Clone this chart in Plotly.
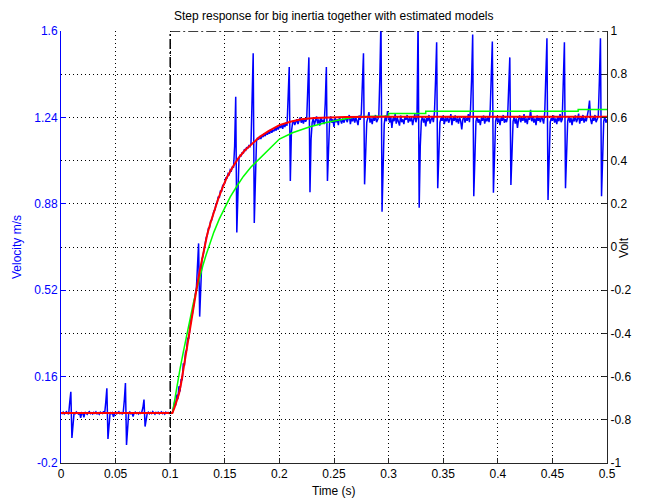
import numpy as np
import plotly.graph_objects as go

# Measured velocity of the big-inertia drive, logged at 1 kHz (m/s)
SAMPLE_PERIOD = 0.001
velocity = [
    0.010, 0.006, 0.012, 0.004, 0.009, 0.014, 0.007, 0.003, 0.054, 0.097,
    -0.096, -0.030, 0.010, 0.006, 0.013, 0.008, 0.004, 0.011, -0.012, 0.009,
    0.006, -0.010, 0.012, 0.007, 0.003, 0.010, 0.014, 0.006, 0.009, 0.004,
    0.011, 0.007, 0.013, 0.005, 0.009, 0.003, 0.012, 0.008, 0.006, 0.015,
    0.007, 0.054, 0.111, -0.100, -0.035, 0.012, 0.006, 0.010, -0.008, 0.008,
    0.013, 0.005, 0.009, 0.014, 0.006, 0.010, 0.004, 0.011, 0.062, 0.133,
    -0.125, -0.040, 0.009, 0.013, 0.005, 0.010, -0.006, 0.008, 0.012, 0.006,
    0.009, 0.004, 0.011, 0.007, 0.013, 0.030, 0.064, -0.048, -0.010, 0.008,
    0.012, 0.005, 0.010, 0.006, 0.014, 0.008, 0.003, 0.011, 0.007, 0.012,
    0.005, 0.009, 0.013, 0.006, 0.010, 0.004, 0.012, 0.008, 0.011, 0.006,
    0.010, 0.007, 0.009, 0.030, 0.055, 0.040, 0.085, 0.066, 0.120, 0.098,
    0.150, 0.145, 0.215, 0.205, 0.262, 0.270, 0.322, 0.318, 0.370, 0.400,
    0.412, 0.452, 0.468, 0.505, 0.530, 0.630, 0.715, 0.410, 0.585, 0.648,
    0.662, 0.695, 0.706, 0.740, 0.750, 0.778, 0.780, 0.808, 0.812, 0.840,
    0.850, 0.855, 0.880, 0.885, 0.910, 0.905, 0.935, 0.930, 0.955, 0.962,
    0.966, 0.990, 0.985, 1.006, 1.002, 1.022, 1.018, 1.036, 1.030, 1.120,
    1.326, 0.760, 0.960, 1.070, 1.082, 1.080, 1.095, 1.090, 1.108, 1.100,
    1.116, 1.110, 1.122, 1.118, 1.132, 1.326, 1.507, 0.800, 0.990, 1.140,
    1.155, 1.148, 1.162, 1.150, 1.166, 1.158, 1.172, 1.162, 1.176, 1.168,
    1.180, 1.172, 1.190, 1.176, 1.188, 1.182, 1.196, 1.185, 1.200, 1.190,
    1.204, 1.196, 1.210, 1.192, 1.214, 1.200, 1.218, 1.205, 1.326, 1.450,
    0.975, 1.180, 1.215, 1.228, 1.208, 1.222, 1.232, 1.212, 1.226, 1.240,
    1.218, 1.230, 1.214, 1.236, 1.222, 1.232, 1.360, 1.490, 0.928, 1.150,
    1.218, 1.236, 1.208, 1.226, 1.244, 1.214, 1.232, 1.206, 1.238, 1.220,
    1.230, 1.212, 1.300, 1.450, 0.975, 1.104, 1.226, 1.244, 1.218, 1.232,
    1.200, 1.238, 1.220, 1.232, 1.208, 1.242, 1.224, 1.214, 1.236, 1.218,
    1.230, 1.242, 1.220, 1.232, 1.250, 1.212, 1.236, 1.224, 1.244, 1.218,
    1.238, 1.226, 1.208, 1.248, 1.230, 1.256, 1.368, 1.507, 0.961, 1.100,
    1.220, 1.238, 1.262, 1.218, 1.236, 1.212, 1.244, 1.226, 1.250, 1.220,
    1.232, 1.242, 1.410, 1.650, 0.847, 1.070, 1.212, 1.248, 1.224, 1.266,
    1.232, 1.218, 1.244, 1.196, 1.236, 1.224, 1.254, 1.214, 1.238, 1.226,
    1.206, 1.248, 1.220, 1.232, 1.212, 1.244, 1.230, 1.250, 1.218, 1.236,
    1.224, 1.242, 1.208, 1.232, 1.254, 1.220, 1.238, 1.650, 0.864, 1.120,
    1.226, 1.244, 1.218, 1.236, 1.202, 1.238, 1.224, 1.250, 1.214, 1.232,
    1.242, 1.220, 1.260, 1.396, 1.553, 0.945, 1.104, 1.218, 1.238, 1.226,
    1.248, 1.212, 1.236, 1.224, 1.244, 1.218, 1.232, 1.254, 1.208, 1.238,
    1.226, 1.248, 1.220, 1.236, 1.214, 1.242, 1.224, 1.190, 1.232, 1.244,
    1.218, 1.238, 1.226, 1.254, 1.220, 1.272, 1.399, 1.585, 0.912, 1.090,
    1.224, 1.244, 1.218, 1.232, 1.208, 1.238, 1.226, 1.248, 1.214, 1.236,
    1.224, 1.242, 1.220, 1.266, 1.390, 1.556, 0.926, 1.100, 1.226, 1.244,
    1.218, 1.236, 1.208, 1.238, 1.226, 1.250, 1.218, 1.232, 1.220, 1.244,
    1.360, 1.490, 0.958, 1.100, 1.224, 1.242, 1.214, 1.236, 1.196, 1.232,
    1.248, 1.220, 1.238, 1.226, 1.254, 1.218, 1.236, 1.212, 1.244, 1.230,
    1.272, 1.224, 1.242, 1.218, 1.236, 1.208, 1.248, 1.226, 1.238, 1.220,
    1.244, 1.232, 1.214, 1.262, 1.390, 1.570, 0.896, 1.090, 1.220, 1.238,
    1.226, 1.248, 1.218, 1.236, 1.212, 1.244, 1.224, 1.254, 1.220, 1.232,
    1.390, 1.553, 0.945, 1.100, 1.226, 1.244, 1.218, 1.238, 1.208, 1.236,
    1.224, 1.248, 1.220, 1.232, 1.256, 1.214, 1.238, 1.226, 1.250, 1.218,
    1.236, 1.224, 1.244, 1.272, 1.310, 1.232, 1.212, 1.238, 1.226, 1.250,
    1.220, 1.232, 1.244, 1.390, 1.570, 0.912, 1.090, 1.224, 1.242, 1.218,
    1.232,
]
time_velocity = np.arange(len(velocity)) * SAMPLE_PERIOD

# Estimated model 1 (red): simulated step response
model1_t = [0.0, 0.102, 0.104, 0.106, 0.108, 0.110, 0.113, 0.116, 0.119, 0.122,
            0.125, 0.128, 0.131, 0.134, 0.137, 0.140, 0.144, 0.148, 0.152, 0.157,
            0.162, 0.168, 0.175, 0.182, 0.190, 0.200, 0.210, 0.220, 0.232, 0.245,
            0.260, 0.300, 0.500]
model1_v = [0.008, 0.008, 0.032, 0.058, 0.088, 0.132, 0.219, 0.306, 0.392, 0.474,
            0.549, 0.622, 0.690, 0.754, 0.802, 0.846, 0.901, 0.948, 0.991, 1.031,
            1.067, 1.101, 1.131, 1.159, 1.183, 1.208, 1.222, 1.232, 1.237, 1.240,
            1.242, 1.243, 1.243]

# Estimated model 2 (green): simulated step response
model2_t = [0.0, 0.102, 0.104, 0.106, 0.109, 0.112, 0.115, 0.118, 0.121, 0.124,
            0.127, 0.130, 0.133, 0.136, 0.140, 0.145, 0.150, 0.155, 0.161, 0.167,
            0.174, 0.182, 0.191, 0.200, 0.212, 0.228, 0.243, 0.258, 0.270, 0.300,
            0.300, 0.334, 0.334, 0.4736, 0.4736, 0.500]
model2_v = [0.008, 0.008, 0.059, 0.115, 0.192, 0.262, 0.333, 0.400, 0.462, 0.520,
            0.574, 0.624, 0.669, 0.711, 0.762, 0.817, 0.866, 0.909, 0.953, 0.994,
            1.033, 1.070, 1.110, 1.150, 1.176, 1.201, 1.219, 1.233, 1.243, 1.246,
            1.256, 1.256, 1.266, 1.266, 1.273, 1.273]

# Input voltage step (right axis), from the switching instant on
input_t = [0.1, 0.1, 0.5]
input_volt = [-1.0, 1.0, 1.0]

# Axis ticks
x_ticks = [0, 0.05, 0.1, 0.15, 0.2, 0.25, 0.3, 0.35, 0.4, 0.45, 0.5]
x_labels = ["0", "0.05", "0.1", "0.15", "0.2", "0.25", "0.3", "0.35", "0.4", "0.45", "0.5"]
vel_ticks = [-0.2, 0.16, 0.52, 0.88, 1.24, 1.6]
vel_labels = ["-0.2", "0.16", "0.52", "0.88", "1.24", "1.6"]
volt_ticks = [-1, -0.8, -0.6, -0.4, -0.2, 0, 0.2, 0.4, 0.6, 0.8, 1]
volt_labels = ["-1", "-0.8", "-0.6", "-0.4", "-0.2", "0", "0.2", "0.4", "0.6", "0.8", "1"]

FONT = "Liberation Sans, Arial, Helvetica, sans-serif"
BLUE = "#0000ff"
DARK = "#262626"
GRID = dict(showgrid=True, gridcolor="#000000", gridwidth=1, griddash="1px,3px")

fig = go.Figure()
fig.add_trace(go.Scatter(x=time_velocity, y=velocity, mode="lines",
                         line=dict(color=BLUE, width=1.5), yaxis="y"))
fig.add_trace(go.Scatter(x=model2_t, y=model2_v, mode="lines",
                         line=dict(color="#00ff00", width=1.5), yaxis="y"))
fig.add_trace(go.Scatter(x=model1_t, y=model1_v, mode="lines",
                         line=dict(color="#ff0000", width=2), yaxis="y"))
fig.add_trace(go.Scatter(x=input_t, y=input_volt, mode="lines",
                         line=dict(color="#000000", width=1.5, dash="10px,3px,2px,3px"),
                         yaxis="y2"))

fig.update_layout(
    width=649, height=498,
    margin=dict(l=61, r=42, t=31, b=35),
    paper_bgcolor="white", plot_bgcolor="white",
    showlegend=False,
    font=dict(family=FONT, size=12, color="#000000"),
    xaxis=dict(range=[0, 0.5], tickmode="array", tickvals=x_ticks, ticktext=x_labels,
               ticks="inside", ticklen=5, tickcolor=DARK, showline=True, linecolor=DARK,
               linewidth=1, zeroline=False, tickfont=dict(family=FONT, size=12, color="#000000"),
               **GRID),
    yaxis=dict(range=[-0.2, 1.6], tickmode="array", tickvals=vel_ticks, ticktext=vel_labels,
               ticks="inside", ticklen=5, tickcolor=BLUE, showline=True, linecolor=BLUE,
               linewidth=1, zeroline=False, tickfont=dict(family=FONT, size=12, color=BLUE),
               **GRID),
    yaxis2=dict(range=[-1, 1], overlaying="y", side="right", anchor="x",
                tickmode="array", tickvals=volt_ticks, ticktext=volt_labels,
                ticks="inside", ticklen=5, tickcolor=DARK, showline=True, linecolor=DARK,
                linewidth=1, zeroline=False, tickfont=dict(family=FONT, size=12, color="#000000"),
                **GRID),
    annotations=[
        dict(text="Step response for big inertia together with estimated models",
             xref="paper", yref="paper", x=0.5, y=1.0347, xanchor="center", yanchor="middle",
             showarrow=False, font=dict(family=FONT, size=12, color="#000000")),
        dict(text="Time (s)", xref="paper", yref="paper", x=0.5, y=-0.0648,
             xanchor="center", yanchor="middle", showarrow=False,
             font=dict(family=FONT, size=12, color="#000000")),
        dict(text="Velocity m/s", xref="paper", yref="paper", x=-0.0806, y=0.5,
             xanchor="center", yanchor="middle", textangle=-90, showarrow=False,
             font=dict(family=FONT, size=12, color=BLUE)),
        dict(text="Volt", xref="paper", yref="paper", x=1.031, y=0.5,
             xanchor="center", yanchor="middle", textangle=-90, showarrow=False,
             font=dict(family=FONT, size=12, color="#000000")),
    ],
)

fig.write_html("out.html", config={"displayModeBar": False})
